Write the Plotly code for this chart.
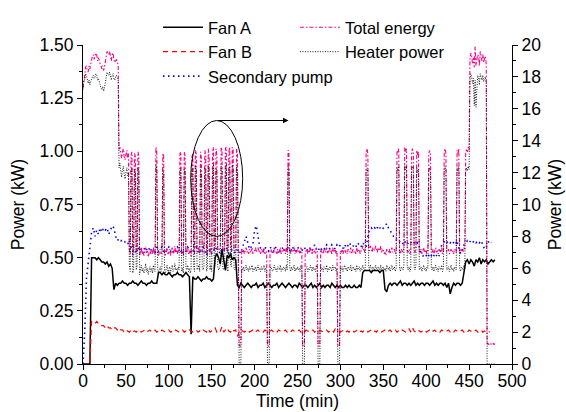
import plotly.graph_objects as go

# ---------------- data ----------------
time_fan_a = list(range(0, 481, 2))
fan_a = [
    0, 0, 0, 0, 0, 0.50, 0.50, 0.50, 0.49, 0.50,
    0.49, 0.48, 0.48, 0.47, 0.48, 0.46, 0.47, 0.45, 0.35, 0.38,
    0.37, 0.38, 0.38, 0.39, 0.38, 0.38, 0.37, 0.38, 0.38, 0.39,
    0.38, 0.38, 0.37, 0.38, 0.39, 0.38, 0.38, 0.37, 0.38, 0.38,
    0.39, 0.38, 0.38, 0.38, 0.43, 0.43, 0.42, 0.43, 0.42, 0.42,
    0.43, 0.42, 0.41, 0.42, 0.42, 0.43, 0.42, 0.42, 0.41, 0.42,
    0.43, 0.42, 0.41, 0.14, 0.41, 0.40, 0.40, 0.41, 0.40, 0.39,
    0.40, 0.40, 0.41, 0.40, 0.40, 0.39, 0.40, 0.50, 0.52, 0.50,
    0.47, 0.54, 0.49, 0.44, 0.51, 0.50, 0.52, 0.49, 0.50, 0.49,
    0.37, 0.36, 0.38, 0.37, 0.36, 0.37, 0.38, 0.37, 0.36, 0.37,
    0.37, 0.38, 0.36, 0.37, 0.37, 0.38, 0.36, 0.37, 0.38, 0.37,
    0.36, 0.37, 0.37, 0.38, 0.36, 0.37, 0.38, 0.37, 0.36, 0.37,
    0.38, 0.37, 0.36, 0.37, 0.37, 0.36, 0.38, 0.37, 0.36, 0.37,
    0.37, 0.36, 0.37, 0.38, 0.36, 0.37, 0.36, 0.37, 0.38, 0.36,
    0.37, 0.36, 0.37, 0.37, 0.36, 0.38, 0.37, 0.36, 0.37, 0.36,
    0.37, 0.36, 0.36, 0.37, 0.36, 0.37, 0.36, 0.36, 0.37, 0.36,
    0.36, 0.37, 0.36, 0.43, 0.44, 0.44, 0.44, 0.44, 0.43, 0.44,
    0.44, 0.44, 0.44, 0.43, 0.44, 0.44, 0.35, 0.34, 0.37, 0.38,
    0.37, 0.38, 0.38, 0.37, 0.38, 0.39, 0.37, 0.38, 0.38, 0.37,
    0.38, 0.37, 0.38, 0.39, 0.37, 0.38, 0.37, 0.38, 0.38, 0.37,
    0.38, 0.38, 0.37, 0.38, 0.39, 0.37, 0.38, 0.37, 0.38, 0.38,
    0.37, 0.38, 0.36, 0.38, 0.33, 0.36, 0.38, 0.37, 0.38, 0.38,
    0.37, 0.38, 0.44, 0.48, 0.49, 0.47, 0.49, 0.48, 0.46, 0.49,
    0.48, 0.50, 0.47, 0.49, 0.48, 0.49, 0.47, 0.48, 0.49, 0.48,
    0.49,
]

time_fan_b = list(range(0, 475, 2))
fan_b = [
    0, 0, 0, 0, 0, 0.20, 0.20, 0.19, 0.20, 0.19,
    0.19, 0.18, 0.18, 0.17, 0.18, 0.17, 0.17, 0.16, 0.17, 0.17,
    0.16, 0.17, 0.16, 0.16, 0.15, 0.16, 0.155, 0.15, 0.16, 0.15,
    0.155, 0.15, 0.16, 0.155, 0.15, 0.155, 0.16, 0.15, 0.155, 0.16,
    0.15, 0.155, 0.16, 0.15, 0.155, 0.15, 0.16, 0.155, 0.15, 0.155,
    0.16, 0.15, 0.155, 0.15, 0.16, 0.155, 0.15, 0.155, 0.16, 0.15,
    0.155, 0.15, 0.16, 0.155, 0.15, 0.155, 0.16, 0.15, 0.155, 0.15,
    0.16, 0.155, 0.15, 0.165, 0.15, 0.155, 0.16, 0.17, 0.15, 0.16,
    0.155, 0.175, 0.15, 0.16, 0.17, 0.155, 0.15, 0.165, 0.155, 0.16,
    0.13, 0.15, 0.16, 0.155, 0.15, 0.155, 0.16, 0.15, 0.155, 0.16,
    0.15, 0.155, 0.16, 0.15, 0.155, 0.15, 0.16, 0.155, 0.15, 0.155,
    0.16, 0.15, 0.155, 0.15, 0.16, 0.155, 0.15, 0.155, 0.16, 0.15,
    0.155, 0.15, 0.16, 0.155, 0.15, 0.155, 0.16, 0.15, 0.155, 0.15,
    0.16, 0.155, 0.15, 0.155, 0.16, 0.15, 0.155, 0.15, 0.16, 0.155,
    0.15, 0.155, 0.16, 0.15, 0.155, 0.16, 0.15, 0.165, 0.16, 0.155,
    0.15, 0.155, 0.16, 0.15, 0.155, 0.15, 0.16, 0.155, 0.15, 0.155,
    0.16, 0.15, 0.155, 0.15, 0.16, 0.155, 0.15, 0.155, 0.16, 0.15,
    0.155, 0.15, 0.16, 0.155, 0.15, 0.155, 0.16, 0.15, 0.155, 0.16,
    0.15, 0.155, 0.16, 0.15, 0.155, 0.15, 0.16, 0.155, 0.15, 0.155,
    0.165, 0.15, 0.17, 0.155, 0.15, 0.16, 0.155, 0.15, 0.155, 0.16,
    0.15, 0.155, 0.16, 0.15, 0.155, 0.16, 0.15, 0.155, 0.15, 0.16,
    0.155, 0.15, 0.155, 0.16, 0.15, 0.155, 0.15, 0.16, 0.155, 0.15,
    0.155, 0.16, 0.15, 0.155, 0.15, 0.16, 0.155, 0.15, 0.155, 0.16,
    0.15, 0.155, 0.16, 0.15, 0.155, 0.15, 0.155, 0.15,
]

time_pump = list(range(0, 477, 2))
pump = [
    0.0, 0.15, 0.40, 0.47, 0.55, 0.62, 0.64, 0.60, 0.63, 0.61,
    0.64, 0.62, 0.64, 0.63, 0.64, 0.61, 0.63, 0.65, 0.64, 0.60,
    0.58, 0.59, 0.58, 0.58, 0.57, 0.58, 0.57, 0.56, 0.55, 0.53,
    0.54, 0.52, 0.55, 0.53, 0.54, 0.52, 0.55, 0.54, 0.53, 0.55,
    0.53, 0.54, 0.52, 0.55, 0.53, 0.54, 0.55, 0.53, 0.52, 0.54,
    0.55, 0.53, 0.54, 0.52, 0.53, 0.55, 0.54, 0.53, 0.52, 0.54,
    0.53, 0.55, 0.54, 0.52, 0.53, 0.54, 0.55, 0.53, 0.52, 0.54,
    0.55, 0.53, 0.51, 0.53, 0.54, 0.52, 0.53, 0.55, 0.54, 0.53,
    0.52, 0.54, 0.53, 0.55, 0.54, 0.52, 0.53, 0.54, 0.53, 0.52,
    0.54, 0.53, 0.52, 0.55, 0.58, 0.60, 0.57, 0.54, 0.55, 0.56,
    0.63, 0.65, 0.60, 0.55, 0.54, 0.53, 0.55, 0.54, 0.53, 0.55,
    0.54, 0.53, 0.55, 0.54, 0.52, 0.54, 0.55, 0.53, 0.54, 0.55,
    0.54, 0.53, 0.55, 0.54, 0.53, 0.55, 0.54, 0.52, 0.54, 0.55,
    0.53, 0.54, 0.55, 0.53, 0.54, 0.56, 0.54, 0.53, 0.55, 0.54,
    0.55, 0.54, 0.56, 0.55, 0.54, 0.56, 0.55, 0.54, 0.56, 0.55,
    0.56, 0.55, 0.54, 0.56, 0.55, 0.57, 0.56, 0.55, 0.56, 0.55,
    0.57, 0.56, 0.55, 0.57, 0.56, 0.55, 0.60, 0.63, 0.64, 0.63,
    0.64, 0.63, 0.65, 0.64, 0.63, 0.64, 0.65, 0.66, 0.64, 0.63,
    0.61, 0.60, 0.59, 0.58, 0.57, 0.58, 0.57, 0.56, 0.58, 0.57,
    0.56, 0.57, 0.58, 0.57, 0.56, 0.57, 0.55, 0.52, 0.51, 0.50,
    0.51, 0.50, 0.52, 0.51, 0.50, 0.52, 0.51, 0.50, 0.52, 0.56,
    0.57, 0.58, 0.57, 0.58, 0.57, 0.58, 0.57, 0.56, 0.58, 0.54,
    0.52, 0.53, 0.56, 0.57, 0.58, 0.57, 0.58, 0.57, 0.58, 0.57,
    0.58, 0.57, 0.58, 0.56, 0.54, 0.55, 0.57, 0.58, 0.57,
]

time_1min = list(range(0, 481))
heater = [
    17.2, 17.8, 17.8, 18.2, 18.1, 17.7, 17.6, 17.8, 17.5, 17.7,
    17.9, 18.0, 18.1, 17.9, 18.0, 18.2, 18.1, 17.8, 17.9, 17.6,
    17.5, 17.3, 17.2, 17.4, 17.1, 17.3, 17.7, 17.9, 18.3, 18.2,
    18.1, 18.3, 18.0, 17.8, 18.1, 18.2, 17.9, 17.8, 18.0, 18.1,
    17.9, 17.8, 12.3, 12.6, 12.1, 11.7, 12.2, 12.4, 11.9, 11.6,
    12.0, 12.3, 11.8, 12.0, 6.2, 5.8, 12.1, 12.3, 5.7, 6.0,
    12.2, 12.0, 5.9, 6.1, 12.3, 12.1, 5.6, 5.9, 6.2, 5.8,
    6.0, 5.7, 5.9, 6.3, 5.8, 6.0, 5.6, 5.9, 6.1, 5.8,
    6.0, 5.7, 6.2, 5.9, 5.8, 12.5, 12.2, 6.0, 5.7, 5.9,
    6.1, 5.8, 6.0, 12.2, 12.0, 5.9, 5.6, 6.0, 6.2, 5.8,
    5.9, 6.1, 5.7, 6.0, 6.2, 5.8, 5.9, 6.3, 5.9, 6.0,
    5.8, 6.1, 5.9, 12.1, 12.3, 5.8, 6.0, 5.7, 12.2, 11.9,
    6.0, 5.9, 6.2, 5.8, 6.0, 5.7, 5.9, 12.0, 12.3, 6.1,
    5.8, 12.4, 12.1, 5.9, 6.0, 6.2, 5.8, 12.2, 11.8, 6.0,
    5.9, 6.1, 12.3, 12.0, 5.8, 6.0, 12.4, 11.9, 5.9, 6.2,
    5.8, 12.1, 12.5, 6.0, 6.2, 12.3, 11.9, 6.1, 5.9, 6.0,
    6.2, 12.4, 12.2, 6.0, 5.9, 6.1, 12.3, 12.5, 6.0, 5.8,
    12.1, 12.4, 6.2, 6.1, 12.5, 12.2, 6.0, 5.9, 6.2, 12.4,
    12.0, 6.1, 0, 0, 0, 6.0, 5.9, 6.1, 5.8, 6.0,
    6.2, 5.9, 6.0, 5.8, 6.1, 5.9, 6.0, 6.2, 5.8, 6.0,
    5.9, 6.1, 5.8, 6.0, 6.2, 5.9, 6.0, 5.8, 6.1, 5.9,
    6.0, 6.2, 5.8, 6.0, 5.9, 0, 0, 0, 6.0, 6.1,
    5.9, 5.8, 6.0, 6.2, 5.9, 6.0, 5.8, 6.1, 6.0, 5.9,
    6.2, 5.8, 6.0, 5.9, 6.1, 6.0, 5.8, 6.2, 5.9, 12.4,
    12.2, 6.0, 5.8, 6.1, 5.9, 6.0, 6.2, 5.8, 6.0, 5.9,
    6.1, 5.9, 6.0, 5.8, 6.2, 6.0, 0, 0, 0, 5.9,
    6.0, 6.1, 5.8, 6.0, 5.9, 6.2, 6.0, 5.8, 6.1, 5.9,
    6.0, 5.8, 6.2, 6.0, 0, 0, 0, 6.1, 5.9, 6.0,
    5.8, 6.1, 6.0, 5.9, 6.2, 5.8, 6.0, 5.9, 6.1, 6.0,
    5.8, 6.2, 5.9, 6.0, 6.1, 5.8, 6.0, 0, 0, 0,
    6.0, 5.9, 6.1, 5.8, 6.0, 6.2, 5.9, 6.0, 5.8, 6.1,
    6.0, 5.9, 6.2, 5.8, 6.0, 6.1, 5.9, 6.0, 5.8, 6.2,
    5.9, 6.0, 6.1, 5.8, 6.0, 5.9, 6.2, 6.0, 5.8, 6.1,
    12.1, 12.3, 12.0, 6.1, 5.9, 6.2, 6.0, 5.8, 6.1, 6.0,
    5.9, 6.2, 6.0, 5.8, 6.1, 6.0, 5.9, 6.2, 5.8, 6.0,
    6.1, 5.9, 6.0, 5.8, 6.2, 6.0, 5.9, 6.1, 5.8, 6.0,
    6.2, 5.9, 6.0, 6.1, 5.8, 6.0, 12.3, 12.1, 12.4, 6.0,
    5.8, 6.1, 6.0, 5.9, 6.2, 12.5, 12.2, 12.4, 6.0, 5.9,
    6.1, 5.8, 6.0, 12.2, 12.4, 12.1, 6.0, 5.9, 6.2, 12.3,
    12.0, 12.2, 5.9, 6.0, 6.1, 5.8, 6.0, 6.2, 5.9, 6.0,
    5.8, 6.1, 6.0, 12.1, 12.3, 12.0, 6.0, 5.9, 6.1, 5.8,
    6.0, 6.2, 5.9, 6.0, 5.8, 6.1, 6.0, 5.9, 6.2, 5.8,
    6.0, 12.2, 12.4, 12.1, 5.9, 6.0, 6.1, 5.8, 6.0, 6.2,
    5.9, 6.0, 5.8, 6.1, 6.0, 5.9, 12.3, 12.1, 12.4, 6.0,
    5.8, 6.1, 6.0, 5.9, 6.2, 6.0, 12.0, 12.3, 12.1, 12.4,
    12.2, 17.9, 18.2, 18.0, 17.6, 17.9, 16.2, 17.8, 16.1, 17.7,
    18.1, 18.0, 17.5, 18.2, 17.9, 17.8, 18.1, 17.7, 17.9, 18.0,
    17.6, 0, 0, 0, 0, 0, 0, 0, 0, 0, 0,
]
total = [
    17.3, 18.0, 18.1, 18.6, 18.7, 18.4, 18.3, 18.7, 18.5, 18.8,
    19.2, 19.3, 19.4, 19.1, 19.3, 19.5, 19.4, 19.0, 19.2, 18.9,
    18.8, 18.7, 18.5, 18.7, 18.4, 18.6, 19.0, 19.2, 19.6, 19.5,
    19.4, 19.6, 19.3, 19.0, 19.4, 19.5, 19.1, 18.9, 19.0, 19.1,
    18.9, 18.8, 13.4, 13.6, 13.2, 12.9, 13.3, 13.5, 13.0, 12.8,
    13.1, 13.4, 12.9, 13.2, 7.2, 6.9, 13.1, 13.3, 6.8, 7.1,
    13.2, 13.0, 7.0, 7.2, 13.3, 13.1, 6.8, 7.0, 7.3, 6.9,
    7.1, 6.8, 7.0, 7.3, 6.9, 7.1, 6.7, 7.0, 7.2, 6.9,
    7.1, 6.9, 7.3, 7.0, 6.9, 13.6, 13.3, 7.1, 6.8, 7.0,
    7.2, 6.9, 7.1, 13.2, 13.1, 7.0, 6.8, 7.1, 7.3, 6.9,
    7.0, 7.2, 6.8, 7.1, 7.3, 6.9, 7.0, 7.4, 7.0, 7.1,
    6.9, 7.2, 7.0, 13.2, 13.3, 6.9, 7.1, 6.8, 13.3, 13.0,
    7.1, 7.0, 7.3, 6.9, 7.1, 6.8, 6.8, 13.0, 13.2, 7.2,
    6.9, 13.4, 13.2, 7.0, 7.1, 7.3, 6.9, 13.3, 12.9, 7.1,
    7.0, 7.2, 13.4, 13.1, 6.9, 7.1, 13.5, 13.0, 7.0, 7.3,
    6.9, 13.2, 13.6, 7.2, 7.4, 13.5, 13.1, 7.3, 7.1, 7.2,
    7.4, 13.6, 13.4, 7.2, 7.1, 7.3, 13.5, 13.6, 7.2, 7.0,
    13.3, 13.6, 7.4, 7.3, 13.6, 13.4, 7.2, 7.1, 7.4, 13.5,
    13.1, 7.2, 1.2, 1.1, 1.2, 7.1, 7.0, 7.2, 6.9, 7.1,
    7.3, 7.0, 7.1, 6.9, 7.2, 7.0, 7.1, 7.3, 6.9, 7.1,
    7.1, 7.3, 7.0, 7.2, 7.3, 7.0, 7.1, 6.9, 7.2, 7.0,
    7.1, 7.3, 6.9, 7.1, 7.0, 1.2, 1.1, 1.2, 7.1, 7.2,
    7.0, 6.9, 7.1, 7.3, 7.0, 7.1, 6.9, 7.2, 7.1, 7.0,
    7.3, 6.9, 7.1, 7.0, 7.2, 7.1, 6.9, 7.3, 7.0, 13.4,
    13.3, 7.1, 6.9, 7.2, 7.0, 7.1, 7.3, 6.9, 7.1, 7.0,
    7.2, 7.0, 7.1, 6.9, 7.3, 7.1, 1.2, 1.1, 1.2, 7.0,
    7.1, 7.2, 6.9, 7.1, 7.0, 7.3, 7.1, 6.9, 7.2, 7.0,
    7.1, 6.9, 7.3, 7.1, 1.2, 1.1, 1.2, 7.2, 7.0, 7.1,
    6.9, 7.2, 7.1, 7.0, 7.3, 6.9, 7.1, 7.0, 7.2, 7.1,
    6.9, 7.3, 7.0, 7.1, 7.2, 6.9, 7.1, 1.2, 1.1, 1.2,
    7.1, 7.0, 7.2, 6.9, 7.1, 7.3, 7.0, 7.1, 6.9, 7.2,
    7.1, 7.0, 7.3, 6.9, 7.1, 7.2, 7.0, 7.1, 6.9, 7.3,
    7.0, 7.1, 7.2, 6.9, 7.1, 7.1, 7.4, 7.2, 7.0, 7.3,
    13.3, 13.5, 13.2, 7.3, 7.1, 7.4, 7.2, 7.0, 7.3, 7.2,
    7.1, 7.4, 7.2, 7.0, 7.3, 7.2, 7.1, 7.4, 7.0, 7.2,
    7.2, 6.9, 7.0, 6.8, 7.2, 7.1, 7.0, 7.2, 6.9, 7.1,
    7.3, 7.0, 7.1, 7.2, 6.9, 7.1, 13.4, 13.2, 13.5, 7.1,
    6.9, 7.2, 7.1, 7.0, 7.3, 13.6, 13.3, 13.5, 7.1, 7.0,
    7.2, 6.9, 7.1, 13.3, 13.5, 13.2, 7.1, 7.0, 7.3, 13.4,
    13.1, 13.3, 7.0, 7.1, 7.2, 6.9, 7.1, 7.3, 7.0, 7.1,
    6.9, 7.2, 7.1, 13.2, 13.4, 13.1, 7.1, 7.0, 7.2, 6.9,
    7.1, 7.3, 7.0, 7.1, 6.9, 7.2, 7.1, 7.0, 7.3, 6.9,
    7.1, 13.3, 13.5, 13.2, 7.0, 7.1, 7.2, 6.9, 7.0, 7.2,
    7.0, 7.1, 6.9, 7.2, 7.1, 7.0, 13.4, 13.2, 13.5, 7.1,
    6.9, 7.2, 7.1, 7.0, 7.3, 7.2, 13.2, 13.5, 13.3, 13.6,
    13.4, 19.1, 19.5, 19.3, 18.8, 19.2, 18.6, 19.9, 18.7, 19.0,
    19.4, 19.3, 18.7, 19.6, 19.1, 19.0, 19.4, 18.9, 19.2, 19.3,
    18.8, 1.2, 1.3, 1.2, 1.3, 1.3, 1.2, 1.3, 1.3, 1.2, 1.3,
]

x_ticks = list(range(0, 501, 50))
left_ticks = [0, 0.25, 0.5, 0.75, 1.0, 1.25, 1.5]
right_ticks = list(range(0, 21, 2))

# annotation geometry (data units)
ellipse_t = [125.5, 186.1]
ellipse_p = [0.60, 1.145]
arrow_t = [155.8, 239.5]

# ---------------- figure ----------------
fig = go.Figure()
fig.add_trace(go.Scatter(x=time_fan_a, y=fan_a, name="Fan A", mode="lines",
                         line=dict(color="black", width=1.5), legend="legend"))
fig.add_trace(go.Scatter(x=time_fan_b, y=fan_b, name="Fan B", mode="lines",
                         line=dict(color="#FF0000", width=1.2, dash="5px,4px"), legend="legend"))
fig.add_trace(go.Scatter(x=time_pump, y=pump, name="Secondary pump", mode="lines",
                         line=dict(color="#0000FF", width=1.6, dash="1.5px,3.5px"), legend="legend"))
fig.add_trace(go.Scatter(x=time_1min, y=total, name="Total energy", mode="lines", yaxis="y2",
                         line=dict(color="#FF0080", width=1.1, dash="4px,2px,1.5px,2px"), legend="legend2"))
fig.add_trace(go.Scatter(x=time_1min, y=heater, name="Heater power", mode="lines", yaxis="y2",
                         line=dict(color="black", width=0.9, dash="1px,1.5px"), legend="legend2"))

FONT = "Liberation Sans, Arial, sans-serif"
axis_common = dict(
    ticks="outside", ticklen=5, tickwidth=1, tickcolor="black",
    showline=True, linecolor="black", linewidth=1,
    showgrid=False, zeroline=False, automargin=False,
    tickfont=dict(family=FONT, size=17.5, color="black"),
)

fig.update_layout(
    width=566, height=412,
    margin=dict(l=83, r=54, t=45, b=48, autoexpand=False),
    paper_bgcolor="white", plot_bgcolor="white",
    font=dict(family=FONT, size=17, color="black"),
    xaxis=dict(range=[0, 500], tickvals=x_ticks, ticklabelstandoff=-4,
               minor=dict(dtick=25, tick0=0, ticks="outside", ticklen=3, tickwidth=1,
                          tickcolor="black", showgrid=False),
               title=dict(text="Time (min)", standoff=4, font=dict(size=17.5)),
               **axis_common),
    yaxis=dict(range=[0, 1.5], tickvals=left_ticks, tickformat=".2f",
               minor=dict(dtick=0.125, tick0=0, ticks="outside", ticklen=3, tickwidth=1,
                          tickcolor="black", showgrid=False),
               title=dict(text="Power (kW)", standoff=10, font=dict(size=17.5)),
               **axis_common),
    yaxis2=dict(range=[0, 20], tickvals=right_ticks, overlaying="y", side="right",
                minor=dict(dtick=1, tick0=0, ticks="outside", ticklen=3, tickwidth=1,
                           tickcolor="black", showgrid=False),
                title=dict(text="Power (kW)", standoff=8, font=dict(size=17.5)),
                **axis_common),
    showlegend=True,
    legend=dict(x=0.1748, y=1.1097, xanchor="left", yanchor="top",
                bgcolor="rgba(0,0,0,0)", itemwidth=40, tracegroupgap=0,
                font=dict(family=FONT, size=16.5, color="black")),
    legend2=dict(x=0.494, y=1.1097, xanchor="left", yanchor="top",
                 bgcolor="rgba(0,0,0,0)", itemwidth=40, tracegroupgap=0,
                 font=dict(family=FONT, size=16.5, color="black")),
    shapes=[dict(type="circle", xref="x", yref="y",
                 x0=ellipse_t[0], x1=ellipse_t[1], y0=ellipse_p[0], y1=ellipse_p[1],
                 line=dict(color="black", width=1))],
    annotations=[dict(x=arrow_t[1], y=ellipse_p[1], ax=arrow_t[0], ay=ellipse_p[1],
                      xref="x", yref="y", axref="x", ayref="y", text="",
                      showarrow=True, arrowhead=2, arrowsize=1.1, arrowwidth=1,
                      arrowcolor="black", standoff=0, startstandoff=0)],
)

fig.write_html("out.html")
